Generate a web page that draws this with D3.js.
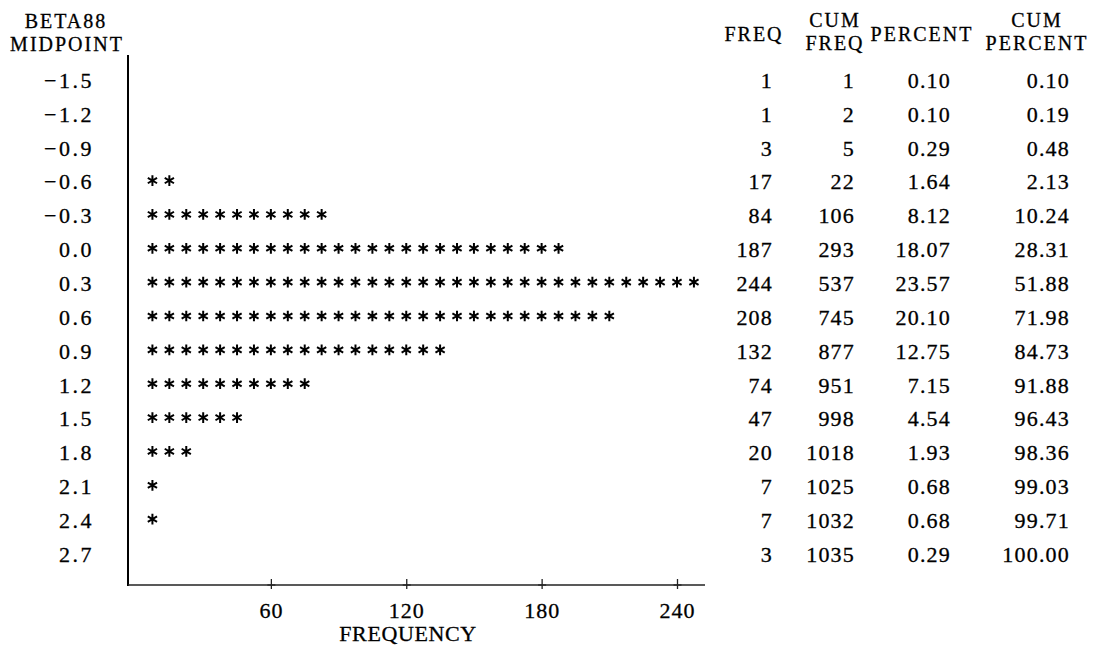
<!DOCTYPE html>
<html>
<head>
<meta charset="utf-8">
<script src="https://cdn.jsdelivr.net/npm/d3@7"></script>
<style>
  html, body { margin: 0; padding: 0; background: #fff; }
  svg text { font-family: "Liberation Serif", "DejaVu Serif", serif; fill: #000; stroke: #000; stroke-width: 0.3; }
</style>
</head>
<body>
<svg id="chart" width="1093" height="648"></svg>
<script>
// Data
const midpoints = ["\u22121.5", "\u22121.2", "\u22120.9", "\u22120.6", "\u22120.3", "0.0", "0.3", "0.6", "0.9", "1.2", "1.5", "1.8", "2.1", "2.4", "2.7"];
const freq = [1, 1, 3, 17, 84, 187, 244, 208, 132, 74, 47, 20, 7, 7, 3];
const cumFreq = [1, 2, 5, 22, 106, 293, 537, 745, 877, 951, 998, 1018, 1025, 1032, 1035];
const percent = [0.10, 0.10, 0.29, 1.64, 8.12, 18.07, 23.57, 20.10, 12.75, 7.15, 4.54, 1.93, 0.68, 0.68, 0.29];
const cumPercent = [0.10, 0.19, 0.48, 2.13, 10.24, 28.31, 51.88, 71.98, 84.73, 91.88, 96.43, 98.36, 99.03, 99.71, 100.00];
const xTicks = [60, 120, 180, 240];
const STAR_UNIT = 7.5; // each * stands for 7.5 observations

// Layout
const FONT = 22;
const HEAD_FONT = 20;
const axisX = 128, axisTop = 55, axisY = 585, axisEnd = 705;

const svg = d3.select("#chart");

const x = d3.scaleLinear().domain([0, 240]).range([135.5, 677]);
const y = d3.scalePoint().domain(midpoints).range([80, 554]);

// header left (two stacked lines)
svg.append("text").attr("x", 66).attr("y", 28).attr("text-anchor", "middle")
  .attr("font-size", HEAD_FONT).attr("letter-spacing", 2).text("BETA88");
svg.append("text").attr("x", 67).attr("y", 50.5).attr("text-anchor", "middle")
  .attr("font-size", HEAD_FONT).attr("letter-spacing", 2).text("MIDPOINT");

// table headers
const headers = [
  { cx: 754, lines: ["FREQ"] },
  { cx: 835, lines: ["CUM", "FREQ"] },
  { cx: 922, lines: ["PERCENT"] },
  { cx: 1037, lines: ["CUM", "PERCENT"] },
];
headers.forEach((h) => {
  if (h.lines.length === 1) {
    svg.append("text").attr("x", h.cx).attr("y", 41).attr("text-anchor", "middle")
      .attr("font-size", HEAD_FONT).attr("letter-spacing", 2).text(h.lines[0]);
  } else {
    h.lines.forEach((t, i) => {
      svg.append("text").attr("x", h.cx).attr("y", 27 + i * 22.5).attr("text-anchor", "middle")
        .attr("font-size", HEAD_FONT).attr("letter-spacing", 2).text(t);
    });
  }
});

// row labels
svg.append("g").selectAll("text").data(midpoints).join("text")
  .attr("x", 94).attr("y", (d) => y(d)).attr("dy", "0.36em")
  .attr("text-anchor", "end").attr("font-size", FONT).attr("letter-spacing", 2.5)
  .text((d) => d);

// table columns
const cols = [
  { right: 773, vals: freq, fmt: (v) => String(v) },
  { right: 855, vals: cumFreq, fmt: (v) => String(v) },
  { right: 951, vals: percent, fmt: (v) => v.toFixed(2) },
  { right: 1070, vals: cumPercent, fmt: (v) => v.toFixed(2) },
];
cols.forEach((c) => {
  svg.append("g").selectAll("text").data(c.vals).join("text")
    .attr("x", c.right).attr("y", (d, i) => y(midpoints[i])).attr("dy", "0.36em")
    .attr("text-anchor", "end").attr("font-size", FONT).attr("letter-spacing", 1.2)
    .text((d) => c.fmt(d));
});

// stars
const starData = [];
freq.forEach((f, i) => {
  const n = Math.round(f / STAR_UNIT);
  for (let k = 1; k <= n; k++) starData.push({ mid: midpoints[i], v: k * STAR_UNIT });
});
const starPath = d3.symbol(d3.symbolAsterisk || d3.symbolCross, 80)();
svg.append("g").selectAll("path").data(starData).join("path")
  .attr("d", starPath)
  .attr("transform", (d) => `translate(${x(d.v)},${y(d.mid) - 1})`)
  .attr("fill", "none").attr("stroke", "#000").attr("stroke-width", 2);

// axes
svg.append("line").attr("x1", axisX).attr("x2", axisX).attr("y1", axisTop).attr("y2", axisY + 1)
  .attr("stroke", "#000").attr("stroke-width", 2);
svg.append("line").attr("x1", axisX).attr("x2", axisEnd).attr("y1", axisY).attr("y2", axisY)
  .attr("stroke", "#222").attr("stroke-width", 1.3);

const xAxis = svg.append("g").attr("transform", `translate(0,${axisY})`)
  .call(d3.axisBottom(x).tickValues(xTicks).tickSize(0).tickPadding(17));
xAxis.select(".domain").remove();
xAxis.selectAll(".tick text").attr("font-size", FONT).attr("fill", "#000")
  .attr("font-family", "Liberation Serif, serif").attr("letter-spacing", 1);
xAxis.selectAll(".tick").append("line")
  .attr("y1", -6).attr("y2", 4).attr("stroke", "#222").attr("stroke-width", 1.3);
xAxis.selectAll(".tick").append("line")
  .attr("x1", -4).attr("x2", 4).attr("stroke", "#222").attr("stroke-width", 1.3);

svg.append("text").attr("x", 408).attr("y", 641).attr("text-anchor", "middle")
  .attr("font-size", FONT).attr("letter-spacing", 0.6).text("FREQUENCY");
</script>
</body>
</html>
